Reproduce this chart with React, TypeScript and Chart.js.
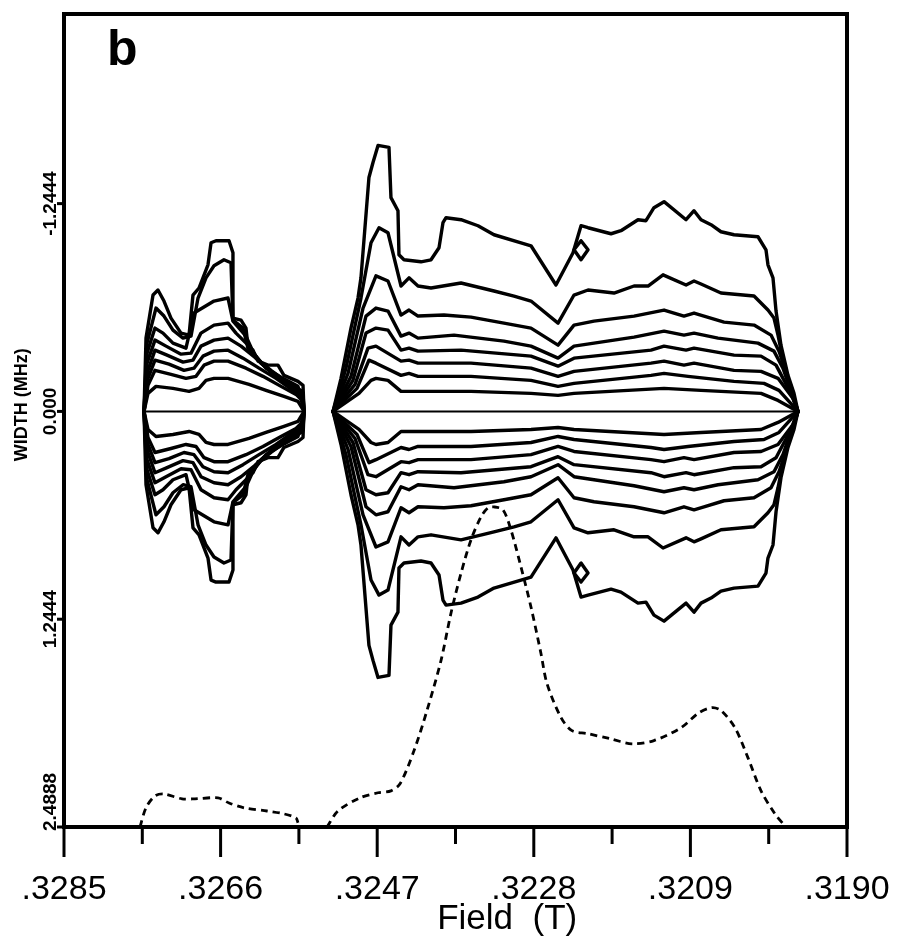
import React, { useEffect, useRef } from "react";
import { Chart, registerables } from "chart.js";
Chart.register(...registerables);

// ---- axis ticks ----
const xMajorTicks = [0.3285, 0.3266, 0.3247, 0.3228, 0.3209, 0.319];
const xMajorLabels = [".3285", ".3266", ".3247", ".3228", ".3209", ".3190"];
const xMinorTicks = [0.32755, 0.32565, 0.32375, 0.32185, 0.31995];
const yTicks = [-1.2444, 0, 1.2444, 2.4888];
const yTickLabels = ["-1.2444", "0.000", "1.2444", "2.4888"];

// ---- left group contours (field T, half-width MHz) ----
const L1F = [0.327529,0.327505,0.32742,0.32736,0.327287,0.327202,0.32708,0.326983,0.326935,0.326862,0.326753,0.326716,0.326656,0.326498,0.32645,0.32645,0.326352,0.326292,0.326268,0.326207,0.326146,0.326025,0.325904,0.325831,0.325661,0.3256,0.325588];
const L1W = [0,0.439,0.697,0.727,0.661,0.559,0.469,0.457,0.697,0.739,0.878,1.01,1.022,1.022,0.95,0.559,0.547,0.499,0.391,0.367,0.301,0.277,0.277,0.216,0.18,0.156,0];
const L2F = [0.327529,0.327493,0.327384,0.327287,0.327178,0.327056,0.326959,0.326874,0.326777,0.32668,0.326559,0.326474,0.32645,0.326328,0.326268,0.326171,0.326049,0.325843,0.325661,0.325588];
const L2W = [0,0.409,0.619,0.571,0.487,0.439,0.451,0.679,0.8,0.872,0.908,0.89,0.547,0.499,0.379,0.331,0.259,0.198,0.15,0];
const L3F = [0.327529,0.327493,0.327396,0.327299,0.327178,0.32702,0.326923,0.32668,0.32651,0.32645,0.326292,0.326171,0.325989,0.325807,0.325625,0.325588];
const L3W = [0,0.349,0.499,0.469,0.409,0.379,0.589,0.661,0.679,0.541,0.451,0.319,0.246,0.18,0.126,0];
const L4F = [0.327529,0.327493,0.327396,0.327262,0.32708,0.326959,0.326838,0.32668,0.32651,0.326413,0.326255,0.32611,0.325928,0.325746,0.3256,0.325588];
const L4W = [0,0.289,0.427,0.391,0.343,0.349,0.469,0.517,0.529,0.469,0.391,0.289,0.216,0.162,0.108,0];
const L5F = [0.327529,0.327481,0.327396,0.32725,0.327056,0.326935,0.326838,0.32668,0.32651,0.326352,0.326171,0.325989,0.325746,0.3256,0.325588];
const L5W = [0,0.246,0.367,0.337,0.295,0.307,0.391,0.427,0.439,0.391,0.319,0.234,0.15,0.09,0];
const L6F = [0.327529,0.327481,0.327396,0.327226,0.327044,0.326923,0.326814,0.32668,0.32651,0.326328,0.326134,0.325928,0.325722,0.3256,0.325588];
const L6W = [0,0.198,0.307,0.283,0.246,0.259,0.331,0.361,0.367,0.319,0.259,0.198,0.126,0.078,0];
const L7F = [0.327529,0.327481,0.327396,0.327202,0.32702,0.326898,0.326801,0.32668,0.32651,0.326292,0.326086,0.325867,0.325685,0.3256,0.325588];
const L7W = [0,0.156,0.246,0.222,0.198,0.21,0.277,0.301,0.301,0.259,0.21,0.15,0.102,0.06,0];
const L8F = [0.327529,0.327481,0.327384,0.327178,0.326983,0.326862,0.326777,0.32668,0.32651,0.326255,0.326049,0.325831,0.325661,0.325588];
const L8W = [0,0.108,0.15,0.138,0.12,0.138,0.186,0.198,0.198,0.162,0.126,0.09,0.06,0];

// ---- right group contours ----
const R1F = [0.325236,0.325139,0.325018,0.324933,0.324897,0.3248,0.324751,0.32469,0.324557,0.324533,0.324448,0.324436,0.324375,0.324169,0.324047,0.32395,0.323902,0.323865,0.323683,0.323477,0.323283,0.322955,0.322834,0.322531,0.322324,0.322227,0.322142,0.321863,0.321742,0.321536,0.321439,0.321342,0.32122,0.320953,0.320856,0.320771,0.32065,0.320529,0.320371,0.32008,0.319983,0.319959,0.319898,0.319861,0.319801,0.319716,0.319643,0.319595];
const R1W = [0,0.198,0.499,0.679,0.8,1.401,1.491,1.593,1.581,1.28,1.202,0.938,0.908,0.896,0.908,0.98,1.13,1.16,1.148,1.112,1.058,1.01,0.992,0.757,0.95,1.112,1.1,1.064,1.082,1.148,1.142,1.22,1.256,1.148,1.202,1.148,1.118,1.076,1.058,1.046,0.968,0.878,0.8,0.601,0.397,0.216,0.108,0];
const R2F = [0.325236,0.325079,0.324897,0.324775,0.324678,0.324569,0.324411,0.324314,0.324205,0.324047,0.323683,0.323283,0.32304,0.322834,0.322506,0.322312,0.322142,0.321827,0.321584,0.321414,0.321232,0.320953,0.320856,0.320771,0.320529,0.320128,0.319959,0.319886,0.319837,0.319764,0.319655,0.319595];
const R2W = [0,0.259,0.679,1.01,1.1,1.07,0.751,0.8,0.751,0.739,0.769,0.721,0.691,0.661,0.529,0.697,0.727,0.709,0.751,0.751,0.818,0.757,0.781,0.763,0.709,0.691,0.607,0.559,0.457,0.277,0.096,0];
const R3F = [0.325236,0.325054,0.324872,0.324715,0.324569,0.324411,0.324314,0.324205,0.32389,0.323562,0.323162,0.322834,0.322506,0.322312,0.32207,0.321584,0.32122,0.320978,0.320856,0.320735,0.320492,0.320128,0.319922,0.319825,0.31974,0.319595];
const R3W = [0,0.228,0.619,0.812,0.781,0.577,0.607,0.571,0.577,0.565,0.529,0.499,0.397,0.517,0.541,0.571,0.607,0.571,0.589,0.571,0.535,0.517,0.457,0.361,0.24,0];
const R4F = [0.325236,0.325018,0.324836,0.324715,0.324569,0.324411,0.324314,0.324205,0.323768,0.323162,0.322834,0.322506,0.322312,0.321584,0.32122,0.320978,0.320856,0.320565,0.32008,0.319886,0.319777,0.319595];
const R4W = [0,0.21,0.571,0.619,0.601,0.451,0.469,0.439,0.457,0.421,0.391,0.319,0.391,0.445,0.481,0.457,0.469,0.439,0.409,0.361,0.259,0];
const R5F = [0.325236,0.324994,0.324836,0.324715,0.324569,0.324411,0.324314,0.324205,0.323683,0.322834,0.322506,0.322312,0.321378,0.32122,0.320953,0.320856,0.320371,0.320043,0.319861,0.31968,0.319595];
const R5W = [0,0.186,0.469,0.499,0.487,0.367,0.379,0.361,0.367,0.331,0.271,0.319,0.367,0.391,0.367,0.379,0.337,0.331,0.277,0.108,0];
const R6F = [0.325236,0.324969,0.324812,0.324715,0.324411,0.324314,0.324205,0.323562,0.322834,0.322506,0.322312,0.321378,0.32122,0.320978,0.320856,0.320371,0.320043,0.319837,0.319655,0.319595];
const R6W = [0,0.162,0.379,0.391,0.301,0.307,0.289,0.289,0.259,0.21,0.24,0.289,0.301,0.277,0.289,0.246,0.24,0.198,0.078,0];
const R7F = [0.325236,0.324945,0.3248,0.324715,0.324411,0.324314,0.324205,0.323562,0.322834,0.322506,0.322312,0.321378,0.32122,0.320929,0.320371,0.320007,0.319825,0.319595];
const R7W = [0,0.138,0.307,0.289,0.216,0.228,0.21,0.21,0.186,0.15,0.168,0.216,0.228,0.21,0.18,0.168,0.126,0];
const R8F = [0.325236,0.324921,0.324775,0.324715,0.324569,0.324411,0.323562,0.322834,0.322506,0.322312,0.32122,0.320771,0.320043,0.319837,0.319595];
const R8W = [0,0.108,0.186,0.198,0.186,0.12,0.12,0.108,0.096,0.108,0.138,0.126,0.108,0.066,0];

// small closed loop near .3222
const diamondF = [0.322227, 0.322142, 0.322227, 0.322312, 0.322227];
const diamondW = [1.022, 0.968, 0.908, 0.968, 1.022];

// zero-width lines
const zeroLeftF = [0.327529, 0.325588];
const zeroRightF = [0.325236, 0.319595];
const zeroW = [0, 0];

// absorption spectrum (dashed), arbitrary intensity units
const absField = [0.327578,0.327505,0.327396,0.327287,0.327068,0.326911,0.326632,0.326498,0.326316,0.326037,0.325831,0.325685,0.325661,0.32545,0.325309,0.325176,0.324909,0.32469,0.324533,0.324423,0.324254,0.324096,0.323926,0.323805,0.323683,0.323562,0.323441,0.323356,0.323283,0.323174,0.323077,0.322955,0.322834,0.322713,0.32264,0.32247,0.322337,0.322154,0.321876,0.321609,0.321342,0.321014,0.320796,0.320638,0.320529,0.320359,0.320201,0.320043,0.319874,0.31974];
const absIntensity: (number | null)[] = [0,0.06,0.097,0.103,0.088,0.088,0.091,0.075,0.06,0.05,0.041,0.028,0.013,null,0,0.05,0.091,0.107,0.113,0.135,0.238,0.364,0.52,0.668,0.793,0.897,0.969,0.997,1.0,0.991,0.928,0.812,0.687,0.542,0.448,0.342,0.301,0.292,0.276,0.26,0.27,0.31,0.357,0.373,0.364,0.31,0.216,0.113,0.041,0];

const contourPairs: [number[], number[]][] = [
  [L1F, L1W], [L2F, L2W], [L3F, L3W], [L4F, L4W], [L5F, L5W], [L6F, L6W], [L7F, L7W], [L8F, L8W],
  [R1F, R1W], [R2F, R2W], [R3F, R3W], [R4F, R4W], [R5F, R5W], [R6F, R6W], [R7F, R7W], [R8F, R8W],
  [diamondF, diamondW],
];

const lineDs = (f: number[], w: number[], sign: number, lw: number) => ({
  data: f.map((xv, i) => ({ x: xv, y: sign * w[i] })),
  borderColor: "#000",
  borderWidth: lw,
  pointRadius: 0,
  showLine: true,
  tension: 0,
  fill: false,
  borderJoinStyle: "round" as const,
  borderCapStyle: "round" as const,
  yAxisID: "y",
});

const decoPlugin = {
  id: "deco",
  afterDatasetsDraw(chart: any) {
    const { ctx, chartArea: a, scales } = chart;
    const x = scales.x;
    const y = scales.y;
    ctx.save();
    ctx.strokeStyle = "#000";
    ctx.fillStyle = "#000";
    ctx.lineWidth = 4;
    ctx.strokeRect(a.left, a.top, a.right - a.left, a.bottom - a.top);

    ctx.lineWidth = 3;
    ctx.lineCap = "butt";
    xMajorTicks.forEach((v) => {
      const px = x.getPixelForValue(v);
      ctx.beginPath();
      ctx.moveTo(px, a.bottom);
      ctx.lineTo(px, a.bottom + 30);
      ctx.stroke();
    });
    xMinorTicks.forEach((v) => {
      const px = x.getPixelForValue(v);
      ctx.beginPath();
      ctx.moveTo(px, a.bottom);
      ctx.lineTo(px, a.bottom + 17);
      ctx.stroke();
    });
    ctx.font = '34px "Liberation Sans"';
    ctx.textAlign = "center";
    ctx.textBaseline = "alphabetic";
    xMajorTicks.forEach((v, i) => {
      ctx.fillText(xMajorLabels[i], x.getPixelForValue(v), a.bottom + 72);
    });
    ctx.font = '35px "Liberation Sans"';
    ctx.fillText("Field  (T)", a.left + 0.566 * (a.right - a.left), a.bottom + 102);

    // y ticks
    ctx.lineWidth = 3;
    yTicks.forEach((v, i) => {
      const py = y.getPixelForValue(v);
      ctx.beginPath();
      ctx.moveTo(a.left - 7, py);
      ctx.lineTo(a.left, py);
      ctx.stroke();
      ctx.save();
      ctx.translate(a.left - 4, i === yTicks.length - 1 ? py + 4 : py);
      ctx.rotate(-Math.PI / 2);
      ctx.font = 'bold 19px "Liberation Sans"';
      ctx.textBaseline = "bottom";
      ctx.textAlign = i === yTicks.length - 1 ? "left" : "center";
      ctx.fillText(yTickLabels[i], 0, 0);
      ctx.restore();
    });
    ctx.save();
    ctx.translate(31, y.getPixelForValue(-0.04));
    ctx.rotate(-Math.PI / 2);
    ctx.font = 'bold 18px "Liberation Sans"';
    ctx.textAlign = "center";
    ctx.textBaseline = "bottom";
    ctx.fillText("WIDTH (MHz)", 0, 0);
    ctx.restore();

    ctx.font = 'bold 50px "Liberation Sans"';
    ctx.textAlign = "left";
    ctx.textBaseline = "alphabetic";
    ctx.fillText("b", a.left + 43, a.top + 51);
    ctx.restore();
  },
};

export default function App() {
  const ref = useRef<HTMLCanvasElement>(null);
  useEffect(() => {
    document.body.style.margin = "0";
    const datasets: any[] = [];
    contourPairs.forEach(([f, w]) => {
      datasets.push(lineDs(f, w, -1, 3.4));
      datasets.push(lineDs(f, w, 1, 3.4));
    });
    datasets.push(lineDs(zeroLeftF, zeroW, 1, 2));
    datasets.push(lineDs(zeroRightF, zeroW, 1, 2));
    datasets.push({
      data: absField.map((xv, i) => ({ x: xv, y: absIntensity[i] })),
      borderColor: "#000",
      borderWidth: 2.8,
      borderDash: [7, 5],
      pointRadius: 0,
      showLine: true,
      tension: 0.3,
      spanGaps: false,
      fill: false,
      yAxisID: "y2",
    });
    const chart = new Chart(ref.current!, {
      type: "scatter",
      data: { datasets },
      options: {
        animation: false,
        responsive: false,
        devicePixelRatio: 1,
        layout: { padding: { left: 64, top: 14, right: 51, bottom: 114 } },
        plugins: { legend: { display: false }, tooltip: { enabled: false } },
        events: [],
        scales: {
          x: { type: "linear", min: 0.319, max: 0.3285, reverse: true, display: false },
          y: { type: "linear", min: -2.38, max: 2.4888, reverse: true, display: false },
          y2: { type: "linear", min: 0, max: 2.54, display: false },
        },
      },
      plugins: [decoPlugin],
    });
    return () => chart.destroy();
  }, []);
  return (
    <div style={{ width: 898, height: 941, background: "#fff" }}>
      <canvas ref={ref} width={898} height={941} style={{ display: "block" }} />
    </div>
  );
}
